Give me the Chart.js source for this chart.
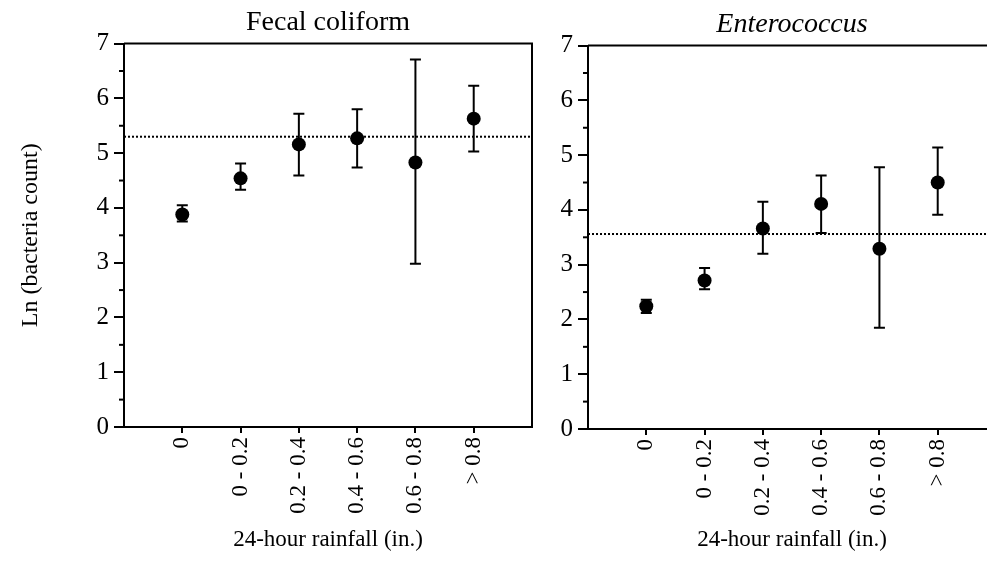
<!DOCTYPE html>
<html>
<head>
<meta charset="utf-8">
<script src="https://cdn.jsdelivr.net/npm/chart.js@4.4.0/dist/chart.umd.min.js"></script>
<style>
  html, body { margin: 0; padding: 0; background: #fff; overflow: hidden; }
  #wrap { position: relative; width: 987px; height: 571px; overflow: hidden; }
  #leftBox { position: absolute; left: 0; top: 0; width: 545px; height: 571px; }
  #rightBox { position: absolute; left: 540px; top: 0; width: 470px; height: 571px; }
</style>
</head>
<body>
<div id="wrap">
  <div id="leftBox"><canvas id="fecalChart"></canvas></div>
  <div id="rightBox"><canvas id="enteroChart"></canvas></div>
</div>
<script>
// rainfall classes and values
const categories = ['0', '0 - 0.2', '0.2 - 0.4', '0.4 - 0.6', '0.6 - 0.8', '> 0.8'];
const yTicks = [0, 1, 2, 3, 4, 5, 6, 7];

const fecalMean = [3.88, 4.54, 5.16, 5.27, 4.83, 5.63];
const fecalLow  = [3.75, 4.33, 4.59, 4.74, 2.98, 5.03];
const fecalHigh = [4.05, 4.81, 5.72, 5.80, 6.71, 6.23];
const fecalRef = 5.30;

const enteroMean = [2.24, 2.71, 3.66, 4.11, 3.29, 4.50];
const enteroLow  = [2.12, 2.55, 3.20, 3.58, 1.85, 3.91];
const enteroHigh = [2.36, 2.94, 4.15, 4.63, 4.78, 5.14];
const enteroRef = 3.56;

const FONT = '"Liberation Serif", "Times New Roman", serif';

// box frame + minor ticks on the y axis
const framePlugin = {
    id: 'frame',
    afterDraw(chart) {
        const ctx = chart.ctx;
        const a = chart.chartArea;
        const y = chart.scales.y;
        ctx.save();
        ctx.strokeStyle = '#000';
        ctx.lineWidth = 2;
        ctx.beginPath();
        ctx.moveTo(a.left, a.top);
        ctx.lineTo(a.right, a.top);
        ctx.lineTo(a.right, a.bottom);
        ctx.stroke();
        // minor ticks at the half units
        for (let i = 0; i < yTicks.length - 1; i++) {
            const py = y.getPixelForValue(yTicks[i] + 0.5);
            ctx.beginPath();
            ctx.moveTo(a.left - 5, py);
            ctx.lineTo(a.left, py);
            ctx.stroke();
        }
        ctx.restore();
    }
};

function errorBarData(low, high) {
    const pts = [];
    for (let i = 0; i < low.length; i++) {
        pts.push({ x: i + 1, y: low[i] });
        pts.push({ x: i + 1, y: high[i] });
        pts.push({ x: i + 1, y: null });
    }
    return pts;
}

function makeChart(id, opts) {
    const ctx = document.getElementById(id).getContext('2d');
    return new Chart(ctx, {
        type: 'scatter',
        data: {
            datasets: [
                {
                    label: 'mean',
                    data: opts.mean.map((v, i) => ({ x: i + 1, y: v })),
                    backgroundColor: '#000',
                    borderColor: '#000',
                    pointRadius: 7,
                    pointBorderWidth: 0
                },
                {
                    label: 'range',
                    data: errorBarData(opts.low, opts.high),
                    showLine: true,
                    spanGaps: false,
                    borderColor: '#000',
                    borderWidth: 2,
                    pointStyle: 'line',
                    pointRadius: 5.5,
                    pointBorderWidth: 2,
                    pointBorderColor: '#000'
                },
                {
                    label: 'reference',
                    data: [{ x: 0, y: opts.ref }, { x: 7, y: opts.ref }],
                    showLine: true,
                    borderColor: '#000',
                    borderWidth: 2,
                    borderDash: [2, 2],
                    pointRadius: 0
                }
            ]
        },
        options: {
            responsive: true,
            maintainAspectRatio: false,
            animation: false,
            layout: { padding: { left: 0, right: opts.padRight, top: 0, bottom: 0 } },
            plugins: {
                legend: { display: false },
                tooltip: { enabled: false },
                title: {
                    display: true,
                    fullSize: false,
                    text: opts.title,
                    color: '#000',
                    font: { family: FONT, size: 28, style: opts.italic ? 'italic' : 'normal', weight: 'normal', lineHeight: 1.2 },
                    padding: { top: opts.titleTop, bottom: 4 }
                }
            },
            scales: {
                x: {
                    type: 'linear',
                    min: 0,
                    max: 7,
                    afterBuildTicks: s => { s.ticks = s.ticks.filter(t => t.value >= 1 && t.value <= 6); },
                    afterFit: s => { s.height = opts.xHeight; },
                    ticks: {
                        stepSize: 1,
                        autoSkip: false,
                        minRotation: 90,
                        maxRotation: 90,
                        padding: 4,
                        color: '#000',
                        font: { family: FONT, size: 23 },
                        callback: v => categories[v - 1]
                    },
                    grid: { drawOnChartArea: false, tickLength: 6, color: '#000', lineWidth: 2 },
                    border: { color: '#000', width: 2 },
                    title: {
                        display: true,
                        text: '24-hour rainfall (in.)',
                        color: '#000',
                        font: { family: FONT, size: 23, lineHeight: 1.2 },
                        padding: { top: 0, bottom: 17 }
                    }
                },
                y: {
                    min: 0,
                    max: 7,
                    afterFit: s => { s.width = opts.yWidth; },
                    ticks: {
                        stepSize: 1,
                        padding: 5,
                        color: '#000',
                        font: { family: FONT, size: 25 }
                    },
                    grid: { drawOnChartArea: false, tickLength: 10, color: '#000', lineWidth: 2 },
                    border: { color: '#000', width: 2 },
                    title: {
                        display: opts.yTitle,
                        text: 'Ln (bacteria count)',
                        color: '#000',
                        font: { family: FONT, size: 24, lineHeight: 1.2 },
                        padding: { top: 16, bottom: 0 }
                    }
                }
            }
        },
        plugins: [framePlugin]
    });
}

makeChart('fecalChart', {
    title: 'Fecal coliform', italic: false,
    mean: fecalMean, low: fecalLow, high: fecalHigh, ref: fecalRef,
    yWidth: 124, xHeight: 144, padRight: 13, yTitle: true, titleTop: 6
});

makeChart('enteroChart', {
    title: 'Enterococcus', italic: true,
    mean: enteroMean, low: enteroLow, high: enteroHigh, ref: enteroRef,
    yWidth: 48, xHeight: 142, padRight: 14, yTitle: false, titleTop: 8
});
</script>
</body>
</html>
